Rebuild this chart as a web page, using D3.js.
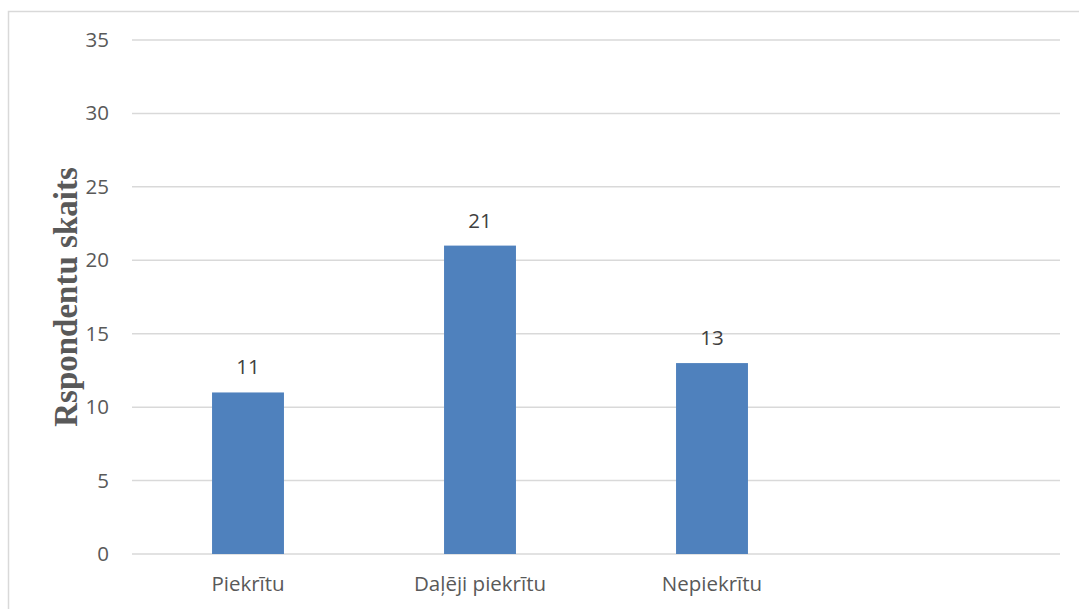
<!DOCTYPE html>
<html>
<head>
<meta charset="utf-8">
<script src="https://cdn.jsdelivr.net/npm/d3@7"></script>
<style>
  body { margin: 0; background: #fff; }
  svg { display: block; }
</style>
</head>
<body>
<div id="chart"></div>
<script>
// Daten
var categories = ['Piekrītu', 'Daļēji piekrītu', 'Nepiekrītu', ''];
var values = [11, 21, 13, null];
var yTicks = [0, 5, 10, 15, 20, 25, 30, 35];
var yTitle = 'Rspondentu skaits';

var width = 1079;
var height = 609;
var margin = {top: 40, right: 19, bottom: 55, left: 132};
var labelFont = '"Open Sans", sans-serif';
var labelSize = '20.5px';

var svg = d3.select('#chart').append('svg')
    .attr('width', width)
    .attr('height', height);

// Rahmen
svg.append('rect')
    .attr('x', 8.5).attr('y', 11.5)
    .attr('width', width + 20).attr('height', height + 20)
    .attr('fill', 'none')
    .attr('stroke', '#d9d9d9')
    .attr('stroke-width', 1.5);

var x = d3.scaleBand()
    .domain(d3.range(categories.length))
    .range([margin.left, width - margin.right])
    .paddingInner(0.69)
    .paddingOuter(0.345);

var y = d3.scaleLinear()
    .domain([0, 35])
    .range([height - margin.bottom, margin.top]);

// Gitterlinien
svg.append('g')
    .selectAll('line')
    .data(yTicks)
    .join('line')
    .attr('x1', margin.left)
    .attr('x2', width - margin.right)
    .attr('y1', function (d) { return y(d); })
    .attr('y2', function (d) { return y(d); })
    .attr('stroke', '#d9d9d9')
    .attr('stroke-width', 1.5);

// Y-Achse
var yAxis = svg.append('g')
    .attr('transform', 'translate(' + (margin.left - 23) + ',0)')
    .call(d3.axisLeft(y).tickValues(yTicks).tickSize(0).tickPadding(0));
yAxis.select('.domain').remove();
yAxis.selectAll('text')
    .attr('fill', '#595959')
    .style('font-family', labelFont)
    .style('font-size', labelSize);

// Balken
var bars = categories.map(function (c, i) { return {i: i, v: values[i]}; })
    .filter(function (d) { return d.v != null; });

svg.append('g')
    .selectAll('rect')
    .data(bars)
    .join('rect')
    .attr('x', function (d) { return x(d.i); })
    .attr('y', function (d) { return y(d.v); })
    .attr('width', x.bandwidth())
    .attr('height', function (d) { return y(0) - y(d.v); })
    .attr('fill', '#4f81bd');

// Werte
svg.append('g')
    .selectAll('text')
    .data(bars)
    .join('text')
    .attr('x', function (d) { return x(d.i) + x.bandwidth() / 2; })
    .attr('y', function (d) { return y(d.v) - 18; })
    .attr('text-anchor', 'middle')
    .attr('fill', '#404040')
    .style('font-family', labelFont)
    .style('font-size', labelSize)
    .text(function (d) { return d.v; });

// Kategorien
svg.append('g')
    .selectAll('text')
    .data(categories)
    .join('text')
    .attr('x', function (d, i) { return x(i) + x.bandwidth() / 2; })
    .attr('y', height - margin.bottom + 37)
    .attr('text-anchor', 'middle')
    .attr('fill', '#595959')
    .style('font-family', labelFont)
    .style('font-size', labelSize)
    .text(function (d) { return d; });

// Achsentitel
svg.append('text')
    .attr('transform', 'translate(77,' + 297 + ') rotate(-90)')
    .attr('text-anchor', 'middle')
    .attr('fill', '#595959')
    .style('font-family', '"Liberation Serif", serif')
    .style('font-weight', 'bold')
    .style('font-size', '33px')
    .text(yTitle);
</script>
</body>
</html>
